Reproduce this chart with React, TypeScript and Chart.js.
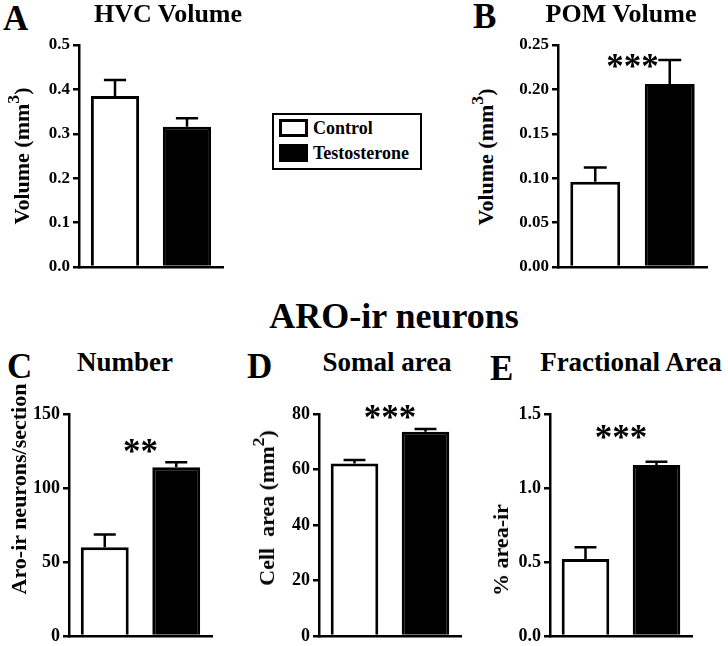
import React, { useEffect, useRef } from 'react';
import { Chart, registerables } from 'chart.js';

Chart.register(...registerables);

const FONT = '"Liberation Serif", "Times New Roman", Times, serif';

// ---- data ----
const groups = ['Control', 'Testosterone'];
const barColors = ['#ffffff', '#000000'];

const hvcVolume = [0.385, 0.316];
const hvcSem = [0.036, 0.019];
const hvcTicks = [0, 0.1, 0.2, 0.3, 0.4, 0.5];

const pomVolume = [0.096, 0.206];
const pomSem = [0.016, 0.027];
const pomTicks = [0, 0.05, 0.1, 0.15, 0.2, 0.25];

const aroNumber = [60, 114];
const aroNumberSem = [8.6, 3.4];
const numberTicks = [0, 50, 100, 150];

const somalArea = [62.2, 73.6];
const somalSem = [1.2, 1.0];
const somalTicks = [0, 20, 40, 60, 80];

const fracArea = [0.52, 1.155];
const fracSem = [0.08, 0.023];
const fracTicks = [0, 0.5, 1.0, 1.5];

const sigLabels = ['', '***', '**', '***', '***'];
const sigLevels = [0, 0.231, 128, 80.4, 1.37];

type Box = { x: number; y: number; w: number; h: number };
type Area = { l: number; r: number; t: number; b: number };

type PanelProps = {
  canvas: Box;
  area: Area;
  values: number[];
  sem: number[];
  ticks: number[];
  decimals: number;
  tickSize: number;
  sig?: string;
  sigLevel?: number;
};

function BarPanel(p: PanelProps) {
  const ref = useRef<HTMLCanvasElement | null>(null);
  useEffect(() => {
    const c = ref.current;
    if (!c) return;
    const semPlugin = {
      id: 'semBars',
      afterDatasetsDraw(chart: any) {
        const ctx = chart.ctx;
        const y = chart.scales.y;
        const meta = chart.getDatasetMeta(0);
        ctx.save();
        ctx.strokeStyle = '#000';
        ctx.lineWidth = 2.5;
        meta.data.forEach((bar: any, i: number) => {
          const top = y.getPixelForValue(p.values[i] + p.sem[i]);
          const half = bar.width * 0.23;
          ctx.beginPath();
          ctx.moveTo(bar.x, bar.y);
          ctx.lineTo(bar.x, top);
          ctx.moveTo(bar.x - half, top);
          ctx.lineTo(bar.x + half, top);
          ctx.stroke();
        });
        if (p.sig) {
          const x = (meta.data[0].x + meta.data[1].x) / 2;
          const yy = y.getPixelForValue(p.sigLevel as number);
          ctx.fillStyle = '#000';
          ctx.font = `bold 35px ${FONT}`;
          ctx.textAlign = 'center';
          ctx.textBaseline = 'alphabetic';
          ctx.fillText(p.sig, x, yy + 16);
        }
        ctx.restore();
      },
    };
    const chart = new Chart(c, {
      type: 'bar',
      data: {
        labels: groups,
        datasets: [
          {
            data: p.values,
            backgroundColor: barColors,
            borderColor: '#000',
            borderWidth: 3,
            borderSkipped: 'start',
            categoryPercentage: 0.67,
            barPercentage: 1,
          },
        ],
      },
      options: {
        responsive: false,
        animation: false,
        devicePixelRatio: 1,
        layout: {
          padding: {
            left: 0,
            top: p.area.t - p.canvas.y,
            right: p.canvas.x + p.canvas.w - p.area.r,
            bottom: p.canvas.y + p.canvas.h - p.area.b,
          },
        },
        plugins: {
          legend: { display: false },
          tooltip: { enabled: false },
          title: { display: false },
        },
        scales: {
          x: {
            type: 'category',
            grid: { display: false },
            ticks: { display: false },
            border: { display: true, color: '#000', width: 2.5 },
            afterFit: (s: any) => {
              s.height = 0;
            },
          },
          y: {
            min: p.ticks[0],
            max: p.ticks[p.ticks.length - 1],
            afterFit: (s: any) => {
              s.width = p.area.l - p.canvas.x;
            },
            afterBuildTicks: (s: any) => {
              s.ticks = p.ticks.map((v) => ({ value: v }));
            },
            grid: {
              display: true,
              drawOnChartArea: false,
              drawTicks: true,
              tickLength: 6,
              color: '#000',
              lineWidth: 2.5,
            },
            border: { display: true, color: '#000', width: 2.5 },
            ticks: {
              color: '#000',
              padding: 3,
              font: { family: FONT, weight: 'bold', size: p.tickSize },
              callback: (v: any) => Number(v).toFixed(p.decimals),
            },
          },
        },
      } as any,
      plugins: [semPlugin],
    });
    return () => chart.destroy();
  }, []);
  return (
    <canvas
      ref={ref}
      width={p.canvas.w}
      height={p.canvas.h}
      style={{ position: 'absolute', left: p.canvas.x, top: p.canvas.y, width: p.canvas.w, height: p.canvas.h }}
    />
  );
}

function Txt({ x, y, size, align = 'left', children }: any) {
  return (
    <div
      style={{
        position: 'absolute',
        left: x,
        top: y - 0.8375 * size,
        fontSize: size,
        lineHeight: `${size}px`,
        fontFamily: FONT,
        fontWeight: 'bold',
        whiteSpace: 'pre',
        color: '#000',
        transform: align === 'center' ? 'translateX(-50%)' : undefined,
      }}
    >
      {children}
    </div>
  );
}

function YLabel({ x, y, size = 22, children }: any) {
  return (
    <div
      style={{
        position: 'absolute',
        left: x,
        top: y,
        fontSize: size,
        lineHeight: `${size}px`,
        fontFamily: FONT,
        fontWeight: 'bold',
        whiteSpace: 'pre',
        color: '#000',
        transform: 'translate(-50%, -50%) rotate(-90deg)',
      }}
    >
      {children}
    </div>
  );
}

const supStyle: React.CSSProperties = { fontSize: '0.8em', lineHeight: 0, verticalAlign: '0.55em' };

export default function App() {
  return (
    <div
      style={{
        position: 'absolute',
        left: 0,
        top: 0,
        width: 728,
        height: 646,
        overflow: 'hidden',
        background: '#fff',
      }}
    >
      <BarPanel
        canvas={{ x: 30, y: 25, w: 210, h: 265 }}
        area={{ l: 79, r: 223, t: 45, b: 267 }}
        values={hvcVolume}
        sem={hvcSem}
        ticks={hvcTicks}
        decimals={1}
        tickSize={17}
        sig={sigLabels[0]}
        sigLevel={sigLevels[0]}
      />
      <BarPanel
        canvas={{ x: 505, y: 25, w: 223, h: 265 }}
        area={{ l: 558, r: 707, t: 45, b: 267 }}
        values={pomVolume}
        sem={pomSem}
        ticks={pomTicks}
        decimals={2}
        tickSize={17}
        sig={sigLabels[1]}
        sigLevel={sigLevels[1]}
      />
      <BarPanel
        canvas={{ x: 20, y: 390, w: 220, h: 270 }}
        area={{ l: 69, r: 212, t: 414, b: 636 }}
        values={aroNumber}
        sem={aroNumberSem}
        ticks={numberTicks}
        decimals={0}
        tickSize={18}
        sig={sigLabels[2]}
        sigLevel={sigLevels[2]}
      />
      <BarPanel
        canvas={{ x: 275, y: 390, w: 205, h: 270 }}
        area={{ l: 319, r: 461, t: 414, b: 636 }}
        values={somalArea}
        sem={somalSem}
        ticks={somalTicks}
        decimals={0}
        tickSize={18}
        sig={sigLabels[3]}
        sigLevel={sigLevels[3]}
      />
      <BarPanel
        canvas={{ x: 500, y: 390, w: 228, h: 270 }}
        area={{ l: 550, r: 692, t: 414, b: 636 }}
        values={fracArea}
        sem={fracSem}
        ticks={fracTicks}
        decimals={1}
        tickSize={18}
        sig={sigLabels[4]}
        sigLevel={sigLevels[4]}
      />

      {/* panel letters */}
      <Txt x={3} y={30} size={35}>A</Txt>
      <Txt x={473} y={28} size={35}>B</Txt>
      <Txt x={7} y={378} size={35}>C</Txt>
      <Txt x={247} y={378} size={35}>D</Txt>
      <Txt x={490} y={380} size={35}>E</Txt>

      {/* panel titles */}
      <Txt x={168} y={23} size={26} align="center">HVC Volume</Txt>
      <Txt x={621} y={23} size={26} align="center">POM Volume</Txt>
      <Txt x={394} y={328} size={36} align="center">ARO-ir neurons</Txt>
      <Txt x={125} y={372} size={27} align="center">Number</Txt>
      <Txt x={387} y={372} size={27} align="center">Somal area</Txt>
      <Txt x={631} y={372} size={27} align="center">Fractional Area</Txt>

      {/* axis titles */}
      <YLabel x={22} y={156}>
        Volume (mm<sup style={supStyle}>3</sup>)
      </YLabel>
      <YLabel x={486} y={157}>
        Volume (mm<sup style={supStyle}>3</sup>)
      </YLabel>
      <YLabel x={19} y={489}>Aro-ir neurons/section</YLabel>
      <YLabel x={267} y={508}>
        Cell  area (mm<sup style={supStyle}>2</sup>)
      </YLabel>
      <YLabel x={501} y={550}>% area-ir</YLabel>

      {/* legend */}
      <div
        style={{
          position: 'absolute',
          left: 272,
          top: 113,
          width: 150,
          height: 57,
          boxSizing: 'border-box',
          border: '2px solid #000',
        }}
      />
      <div
        style={{
          position: 'absolute',
          left: 279,
          top: 119,
          width: 29,
          height: 18,
          boxSizing: 'border-box',
          border: '3px solid #000',
          background: barColors[0],
        }}
      />
      <div
        style={{
          position: 'absolute',
          left: 279,
          top: 144,
          width: 29,
          height: 18,
          boxSizing: 'border-box',
          border: '3px solid #000',
          background: barColors[1],
        }}
      />
      <Txt x={313} y={134} size={18}>{groups[0]}</Txt>
      <Txt x={313} y={159} size={18}>{groups[1]}</Txt>
    </div>
  );
}
